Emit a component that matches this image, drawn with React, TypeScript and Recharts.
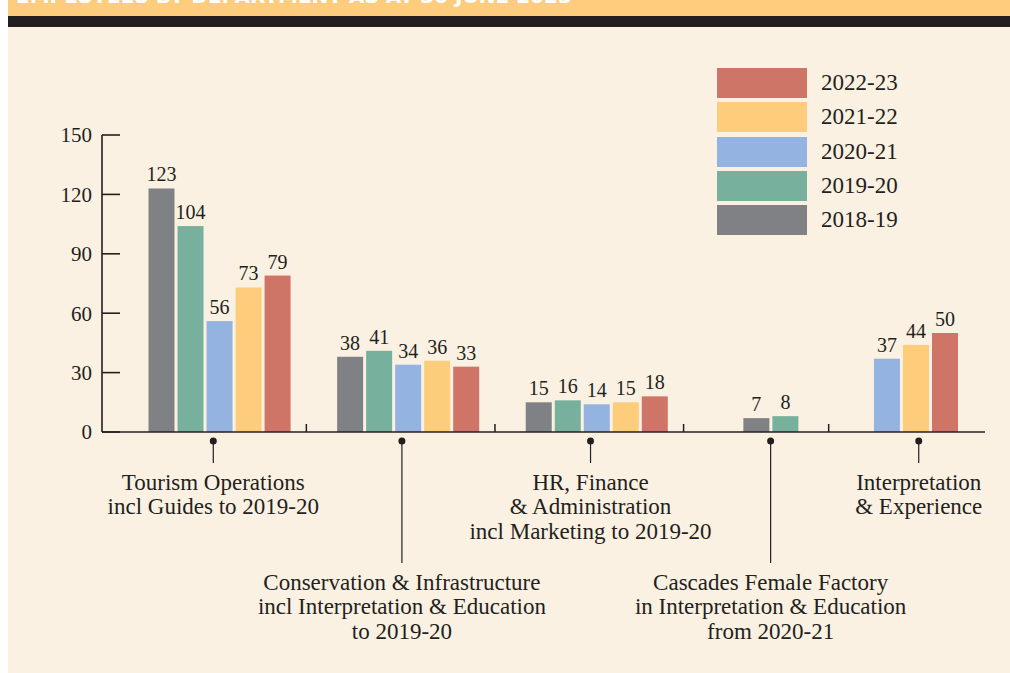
import { BarChart, Bar, XAxis, YAxis, LabelList, Legend } from "recharts";

const years = ["2018-19", "2019-20", "2020-21", "2021-22", "2022-23"];
const yearColors = ["#808185", "#78b09e", "#94b3e0", "#fdcd7c", "#cf7567"];

const categoryLabels = [
  ["Tourism Operations", "incl Guides to 2019-20"],
  ["Conservation & Infrastructure", "incl Interpretation & Education", "to 2019-20"],
  ["HR, Finance", "& Administration", "incl Marketing to 2019-20"],
  ["Cascades Female Factory", "in Interpretation & Education", "from 2020-21"],
  ["Interpretation", "& Experience"],
];

const staff1819 = [123, 38, 15, 7, null];
const staff1920 = [104, 41, 16, 8, null];
const staff2021 = [56, 34, 14, null, 37];
const staff2122 = [73, 36, 15, null, 44];
const staff2223 = [79, 33, 18, null, 50];

const yTicks = [0, 30, 60, 90, 120, 150];

const seriesValues = [staff1819, staff1920, staff2021, staff2122, staff2223];

// half-width slots: one empty slot between bars, wider gaps between departments
const groupGaps = [4, 4, 6, 6];
const dividerAt = [1, 1, 1, 2];
// pointer / caption nudge per department (px)
const labelShift = [-6, -6, -6, 0, 3];

const ink = "#231f20";
const serif = "'Liberation Serif', 'DejaVu Serif', serif";

type Row = { key: string; label?: number; divider?: boolean; [k: string]: any };
const rows: Row[] = [];
categoryLabels.forEach((_, c) => {
  const start = rows.length;
  const present = years.map((_, i) => i).filter((i) => seriesValues[i][c] != null);
  present.forEach((i, n) => {
    if (n > 0) rows.push({ key: `c${c}-s${n}` });
    rows.push({ key: `c${c}-y${i}`, [years[i]]: seriesValues[i][c] });
  });
  rows[start + Math.floor((rows.length - 1 - start) / 2)].label = c;
  if (c < categoryLabels.length - 1) {
    for (let g = 0; g < groupGaps[c]; g++) {
      rows.push({ key: `c${c}-g${g}`, divider: g === dividerAt[c] });
    }
  }
});

const WideBar = (props: any) => {
  const { x, y, width, height, fill } = props;
  if (!height || height <= 0) return <g />;
  return <rect x={x + width / 2 - 13} y={y} width={26} height={height} fill={fill} />;
};

const YTick = ({ x, y, payload }: any) => (
  <g>
    <line x1={x + 10} x2={x + 28} y1={y} y2={y} stroke={ink} strokeWidth={1.6} />
    <text x={x} y={y} dy="0.35em" textAnchor="end" fontFamily={serif} fontSize={21} fill={ink}>
      {payload.value}
    </text>
  </g>
);

const XTick = ({ x, y, index }: any) => {
  const row = rows[index];
  if (!row) return null;
  if (row.divider) {
    return <line x1={x} x2={x} y1={y} y2={y - 8} stroke={ink} strokeWidth={1.5} />;
  }
  if (row.label == null) return null;
  const cx = x + labelShift[row.label];
  const long = row.label % 2 === 1;
  const lineEnd = long ? 131 : 31;
  const lines = categoryLabels[row.label];
  return (
    <g>
      <circle cx={cx} cy={y + 9} r={3.5} fill={ink} />
      <line x1={cx} x2={cx} y1={y + 9} y2={y + lineEnd} stroke={ink} strokeWidth={1.2} />
      {lines.map((t, i) => (
        <text
          key={i}
          x={cx}
          y={y + lineEnd + 27 + i * 24.3}
          textAnchor="middle"
          fontFamily={serif}
          fontSize={23}
          fill={ink}
        >
          {t}
        </text>
      ))}
    </g>
  );
};

const LegendBox = () => (
  <div style={{ display: "flex", flexDirection: "column", gap: 4.3 }}>
    {years
      .map((y, i) => ({ y, color: yearColors[i] }))
      .reverse()
      .map(({ y, color }) => (
        <div key={y} style={{ display: "flex", alignItems: "center", height: 30 }}>
          <div style={{ width: 90, height: 30, background: color }} />
          <span style={{ marginLeft: 14, fontFamily: serif, fontSize: 23, color: ink, lineHeight: "30px" }}>
            {y}
          </span>
        </div>
      ))}
  </div>
);

export default function App() {
  return (
    <div
      style={{
        position: "absolute",
        top: 0,
        left: 8,
        width: 1002,
        height: 673,
        background: "#faf1e2",
        overflow: "hidden",
      }}
    >
      <div style={{ position: "absolute", top: 0, left: 0, width: 1002, height: 16, background: "#fdcd7d", overflow: "hidden" }}>
        <div
          style={{
            position: "absolute",
            top: -14,
            left: 8,
            fontFamily: "'DejaVu Sans', sans-serif",
            fontWeight: 700,
            fontSize: 20,
            lineHeight: "20px",
            color: "#ffffff",
            whiteSpace: "nowrap",
          }}
        >
          EMPLOYEES BY DEPARTMENT AS AT 30 JUNE 2023
        </div>
      </div>
      <div style={{ position: "absolute", top: 16, left: 0, width: 1002, height: 11, background: ink }} />
      <div style={{ position: "absolute", top: 0, left: 0 }}>
        <BarChart
          width={1002}
          height={668}
          data={rows}
          margin={{ top: 135, right: 25, left: 0, bottom: 0 }}
          barCategoryGap={0}
        >
          <XAxis
            dataKey="key"
            height={236}
            interval={0}
            padding={{ left: 52, right: 33 }}
            axisLine={{ stroke: ink, strokeWidth: 1.6 }}
            tickLine={false}
            tickSize={0}
            tickMargin={0}
            tick={<XTick />}
          />
          <YAxis
            width={94}
            domain={[0, 150]}
            ticks={yTicks}
            axisLine={{ stroke: ink, strokeWidth: 1.6 }}
            tickLine={false}
            tickSize={0}
            tickMargin={10}
            tick={<YTick />}
          />
          <Legend
            layout="vertical"
            align="center"
            verticalAlign="middle"
            content={<LegendBox />}
            wrapperStyle={{ top: 68, left: 709, width: 200 }}
          />
          {years.map((y, i) => (
            <Bar key={y} dataKey={y} stackId="s" fill={yearColors[i]} shape={<WideBar />} isAnimationActive={false}>
              <LabelList dataKey={y} position="top" offset={7} fontFamily={serif} fontSize={20} fill={ink} />
            </Bar>
          ))}
        </BarChart>
      </div>
    </div>
  );
}
